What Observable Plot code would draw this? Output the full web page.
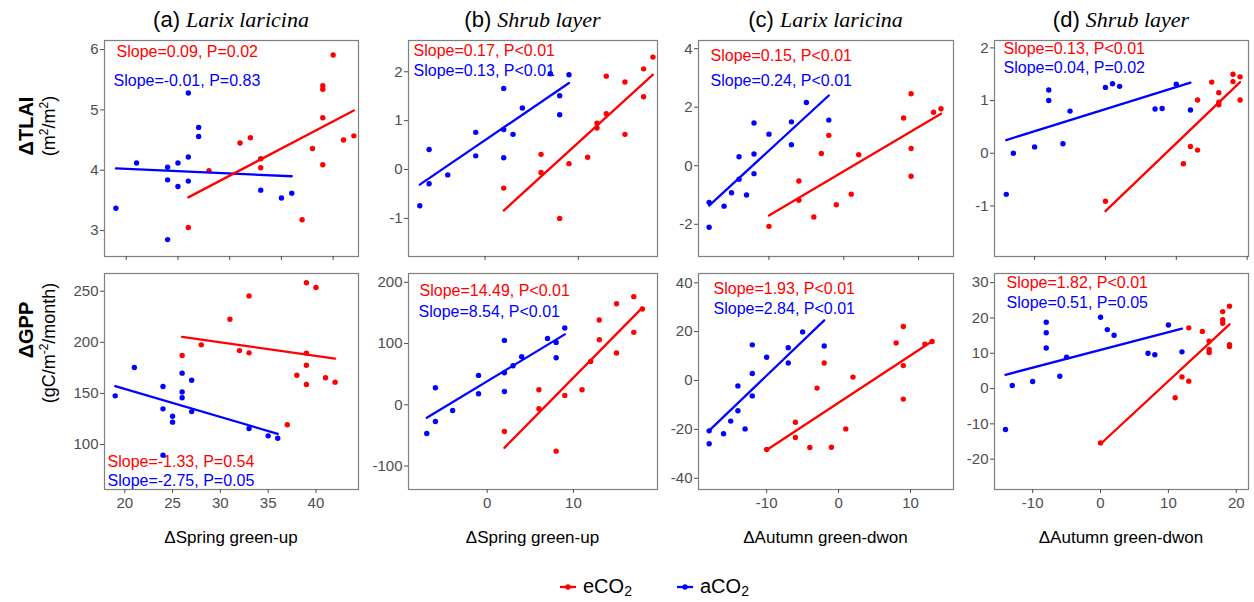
<!DOCTYPE html>
<html><head><meta charset="utf-8">
<script src="https://cdn.jsdelivr.net/npm/d3@7"></script>
<script src="https://cdn.jsdelivr.net/npm/@observablehq/plot@0.6"></script>
<style>
body{margin:0;background:#fff;}
#root{position:relative;width:1254px;height:602px;overflow:hidden;font-family:"Liberation Sans",Arial,sans-serif;}
.panel{position:absolute;}
#over{position:absolute;left:0;top:0;}
</style></head><body><div id="root"><svg id="over" width="1254" height="602"></svg></div>
<script>
// ---------- data ----------
const aTopBlue = [[19,3.37],[21,4.12],[24,4.05],[24,3.84],[24,2.85],[25,4.12],[25,3.73],[26,5.28],[26,4.22],[26,3.82],[27,4.71],[27,4.56],[33,3.67],[35,3.54],[36,3.62]];
const aTopRed = [[26,3.05],[28,3.99],[31,4.45],[32,4.54],[33,4.19],[33,4.04],[37,3.18],[38,4.36],[39,5.40],[39,5.34],[39,4.87],[39,4.09],[40,5.91],[41,4.50],[42,4.57]];
const aTopBlueFit = [[19,4.03],[36,3.90]];
const aTopRedFit = [[26,3.55],[42,4.99]];

const bTopBlue = [[-7,-0.74],[-6,-0.29],[-6,0.41],[-4,-0.11],[-1,0.28],[-1,0.76],[2,1.66],[2,0.82],[2,0.24],[3,0.72],[4,1.26],[7,1.96],[8,1.51],[8,1.12],[9,1.94]];
const bTopRed = [[2,-0.38],[6,0.31],[6,-0.06],[8,-1.0],[9,0.12],[11,0.25],[12,0.85],[12,0.95],[13,1.14],[13,1.91],[15,0.72],[15,1.79],[17,1.49],[17,2.06],[18,2.30]];
const bTopBlueFit = [[-7,-0.31],[9,1.77]];
const bTopRedFit = [[2,-0.84],[18,1.94]];

const cTopBlue = [[-18,-2.10],[-18,-1.25],[-16,-1.38],[-15,-0.92],[-14,-0.46],[-14,0.31],[-13,-1.0],[-12,1.46],[-12,0.40],[-12,-0.27],[-10,1.08],[-7,1.50],[-7,0.72],[-5,2.16],[-2,1.56]];
const cTopRed = [[-10,-2.07],[-6,-0.52],[-6,-1.18],[-4,-1.75],[-3,0.42],[-2,1.04],[-1,-1.33],[1,-0.97],[2,0.38],[8,1.63],[9,2.46],[9,0.59],[9,-0.36],[12,1.83],[13,1.95]];
const cTopBlueFit = [[-18,-1.36],[-2,2.40]];
const cTopRedFit = [[-10,-1.70],[13,1.78]];

const dTopBlue = [[-14,-0.78],[-13,0.0],[-10,0.12],[-8,1.20],[-8,1.0],[-6,0.18],[-5,0.80],[0,1.25],[1,1.32],[2,1.27],[7,0.84],[8,0.85],[10,1.31],[12,0.82]];
const dTopRed = [[0,-0.91],[11,-0.20],[12,0.13],[13,0.06],[13,1.01],[15,1.35],[16,1.15],[16,0.97],[16,0.92],[18,1.50],[18,1.36],[19,1.45],[19,1.01]];
const dTopBlueFit = [[-14,0.25],[12,1.34]];
const dTopRedFit = [[0,-1.10],[19,1.35]];

const aBotBlue = [[19,147.6],[21,175.3],[24,156.7],[24,134.9],[24,89.6],[25,127.7],[25,121.9],[26,169.8],[26,151.5],[26,145.7],[27,162.9],[27,132.2],[33,115.7],[35,108.5],[36,106.2]];
const aBotRed = [[26,187.1],[28,197.5],[31,222.6],[32,191.9],[33,245.4],[33,189.7],[37,119.3],[38,167.8],[39,258.2],[39,189.4],[39,177.6],[39,158.7],[40,253.6],[41,165.3],[42,161.0]];
const aBotBlueFit = [[19,157.1],[36,110.5]];
const aBotRedFit = [[26,205.3],[42,184.1]];

const bBotBlue = [[-7,-46.9],[-6,27.8],[-6,-27.2],[-4,-9.3],[-1,48.0],[-1,18.0],[2,105.2],[2,52.3],[2,21.8],[3,63.8],[4,78.5],[7,108.4],[8,101.9],[8,76.8],[9,125.3]];
const bBotRed = [[2,-43.6],[6,24.5],[6,-6.5],[8,-75.7],[9,15.3],[11,24.5],[12,70.8],[13,106.3],[13,138.4],[15,84.5],[15,165.1],[17,118.3],[17,176.6],[18,156.4]];
const bBotBlueFit = [[-7,-21.3],[9,115]];
const bBotRedFit = [[2,-70.3],[18,158.6]];

const cBotBlue = [[-18,-25.9],[-18,-20.6],[-16,-21.8],[-15,-16.6],[-14,-2.2],[-14,-12.4],[-13,-19.8],[-12,14.6],[-12,2.9],[-12,-6.3],[-10,9.5],[-7,13.4],[-7,7.2],[-5,19.9],[-2,14.1]];
const cBotRed = [[-10,-28.2],[-6,-17.1],[-6,-23.3],[-4,-27.4],[-3,-3.1],[-2,7.2],[-1,-27.3],[1,-19.8],[2,1.4],[8,15.4],[9,22.1],[9,6.1],[9,-7.6],[12,14.9],[13,16.0]];
const cBotBlueFit = [[-18,-20.5],[-2,24.6]];
const cBotRedFit = [[-10,-28.4],[13,16.1]];

const dBotBlue = [[-14,-11.6],[-13,0.85],[-10,2.0],[-8,18.8],[-8,15.8],[-8,11.5],[-6,3.5],[-5,8.9],[0,20.2],[1,16.7],[2,15.1],[7,10.0],[8,9.6],[10,18.0],[12,10.4]];
const dBotRed = [[0,-15.4],[11,-2.6],[12,3.3],[13,2.1],[13,17.2],[15,16.2],[16,13.4],[16,11.1],[16,10.2],[18,21.8],[18,19.5],[18,18.5],[19,23.3],[19,12.4],[19,11.9]];
const dBotBlueFit = [[-14,3.9],[12,17.0]];
const dBotRedFit = [[0,-15.7],[19,18.2]];

const xTicksA = [20,25,30,35,40];
const xTicksB = [0,10];
const xTicksC = [-10,0,10];
const xTicksD = [-10,0,10,20];
const yTicksATop = [3,4,5,6], yTicksBTop = [-1,0,1,2], yTicksCTop = [-2,0,2,4], yTicksDTop = [-1,0,1,2];
const yTicksABot = [100,150,200,250], yTicksBBot = [-100,0,100,200], yTicksCBot = [-40,-20,0,20,40], yTicksDBot = [-20,-10,0,10,20,30];

const titles = [["(a) ","Larix laricina"],["(b) ","Shrub layer"],["(c) ","Larix laricina"],["(d) ","Shrub layer"]];
const xTitles = ["ΔSpring green-up","ΔSpring green-up","ΔAutumn green-dwon","ΔAutumn green-dwon"];

// ---------- layout ----------
const RED = "#ff0000", BLUE = "#0000ff";
const cols = [[104,358],[408,657],[698,953],[994,1248]];
const rows = [[40,256],[273,489]];
const ML = 50, MR = 8, MT = 6, MB = 28;

const panels = [
  {c:0,r:0,xd:[17.9,42.45],yd:[2.57,6.15],xt:xTicksA,yt:yTicksATop,blue:aTopBlue,red:aTopRed,bf:aTopBlueFit,rf:aTopRedFit,rt:"Slope=0.09, P=0.02",bt:"Slope=-0.01, P=0.83",rp:[12,11],bp:[9,40]},
  {c:1,r:0,xd:[-8.21,18.49],yd:[-1.78,2.64],xt:xTicksB,yt:yTicksBTop,blue:bTopBlue,red:bTopRed,bf:bTopBlueFit,rf:bTopRedFit,rt:"Slope=0.17, P<0.01",bt:"Slope=0.13, P<0.01",rp:[5,10],bp:[5,30]},
  {c:2,r:0,xd:[-19.42,14.67],yd:[-3.10,4.28],xt:xTicksC,yt:yTicksCTop,blue:cTopBlue,red:cTopRed,bf:cTopBlueFit,rf:cTopRedFit,rt:"Slope=0.15, P<0.01",bt:"Slope=0.24, P<0.01",rp:[12,15],bp:[12,40]},
  {c:3,r:0,xd:[-15.66,20.19],yd:[-1.96,2.14],xt:xTicksD,yt:yTicksDTop,blue:dTopBlue,red:dTopRed,bf:dTopBlueFit,rf:dTopRedFit,rt:"Slope=0.13, P<0.01",bt:"Slope=0.04, P=0.02",rp:[9,8.5],bp:[9,27.5]},
  {c:0,r:1,xd:[17.88,44.45],yd:[56.0,267.3],xt:xTicksA,yt:yTicksABot,blue:aBotBlue,red:aBotRed,bf:aBotBlueFit,rf:aBotRedFit,rt:"Slope=-1.33, P=0.54",bt:"Slope=-2.75, P=0.05",rp:[3,188],bp:[3,207]},
  {c:1,r:1,xd:[-9.12,19.75],yd:[-138.3,214.4],xt:xTicksB,yt:yTicksBBot,blue:bBotBlue,red:bBotRed,bf:bBotBlueFit,rf:bBotRedFit,rt:"Slope=14.49, P<0.01",bt:"Slope=8.54, P<0.01",rp:[11,17],bp:[10,38]},
  {c:2,r:1,xd:[-19.48,15.98],yd:[-44.6,43.8],xt:xTicksC,yt:yTicksCBot,blue:cBotBlue,red:cBotRed,bf:cBotBlueFit,rf:cBotRedFit,rt:"Slope=1.93, P<0.01",bt:"Slope=2.84, P<0.01",rp:[15,15.5],bp:[15,35.5]},
  {c:3,r:1,xd:[-15.62,21.8],yd:[-28.6,32.6],xt:xTicksD,yt:yTicksDBot,blue:dBotBlue,red:dBotRed,bf:dBotBlueFit,rf:dBotRedFit,rt:"Slope=1.82, P<0.01",bt:"Slope=0.51, P=0.05",rp:[12,9.5],bp:[12,29]}
];

const root = document.getElementById("root");
const X = d => d[0], Y = d => d[1];
for (const p of panels) {
  const [l, rgt] = cols[p.c], [t, b] = rows[p.r];
  const w = rgt - l, h = b - t;
  const svg = Plot.plot({
    width: w + ML + MR, height: h + MT + MB,
    marginLeft: ML, marginRight: MR, marginTop: MT, marginBottom: MB,
    x: {domain: p.xd, label: null},
    y: {domain: p.yd, label: null},
    style: {fontFamily: "'Liberation Sans', Arial, sans-serif", fontSize: "15px", color: "#4d4d4d", background: "transparent", overflow: "visible"},
    marks: [
      Plot.frame({stroke: "#7f7f7f", strokeWidth: 1.2}),
      Plot.axisX({ticks: p.xt, tickSize: 4, tickPadding: 4, label: null, tickFormat: p.r === 1 ? d => String(d) : () => ""}),
      Plot.axisY({ticks: p.yt, tickSize: 4, tickPadding: 2, label: null, tickFormat: d => String(d)}),
      Plot.dot(p.blue, {x: X, y: Y, r: 2.7, fill: BLUE, stroke: null}),
      Plot.dot(p.red, {x: X, y: Y, r: 2.7, fill: RED, stroke: null}),
      Plot.line(p.bf, {x: X, y: Y, stroke: BLUE, strokeWidth: 2.3}),
      Plot.line(p.rf, {x: X, y: Y, stroke: RED, strokeWidth: 2.3}),
      Plot.text([p.rt], {text: d => d, frameAnchor: "top-left", textAnchor: "start", lineAnchor: "middle", dx: p.rp[0], dy: p.rp[1], fill: RED, fontSize: 16}),
      Plot.text([p.bt], {text: d => d, frameAnchor: "top-left", textAnchor: "start", lineAnchor: "middle", dx: p.bp[0], dy: p.bp[1], fill: BLUE, fontSize: 16})
    ]
  });
  svg.classList.add("panel");
  svg.style.left = (l - ML) + "px";
  svg.style.top = (t - MT) + "px";
  root.appendChild(svg);
}

// ---------- titles, axis titles, legend ----------
const over = d3.select("#over");
titles.forEach((tt, i) => {
  const cx = (cols[i][0] + cols[i][1]) / 2;
  const tx = over.append("text").attr("x", cx).attr("y", 27).attr("text-anchor", "middle").attr("font-size", 22).attr("fill", "#000");
  tx.append("tspan").attr("font-family", "'Liberation Sans', Arial, sans-serif").text(tt[0]);
  tx.append("tspan").attr("font-family", "'Liberation Serif', 'Times New Roman', serif").attr("font-style", "italic").text(tt[1]);
});
xTitles.forEach((tt, i) => {
  const cx = (cols[i][0] + cols[i][1]) / 2;
  over.append("text").attr("x", cx).attr("y", 543).attr("text-anchor", "middle").attr("font-size", 17)
    .attr("font-family", "'Liberation Sans', Arial, sans-serif").attr("fill", "#000").text(tt);
});
function yTitle(cy1, cy2, main, unitParts) {
  over.append("text").attr("transform", `translate(33,${cy1}) rotate(-90)`).attr("text-anchor", "middle")
    .attr("font-size", 20).attr("font-weight", "bold").attr("font-family", "'Liberation Sans', Arial, sans-serif").text(main);
  const u = over.append("text").attr("transform", `translate(55,${cy2}) rotate(-90)`).attr("text-anchor", "middle")
    .attr("font-size", 18).attr("font-family", "'Liberation Sans', Arial, sans-serif");
  for (const [s, sup] of unitParts) {
    const ts = u.append("tspan").text(s);
    if (sup) ts.attr("font-size", 12).attr("baseline-shift", "super");
  }
}
yTitle(126, 126, "ΔTLAI", [["(m",0],["2",1],["/m",0],["2",1],[")",0]]);
yTitle(330, 343, "ΔGPP", [["(gC/m",0],["-2",1],["/month)",0]]);

const legend = [["eCO", RED, 560], ["aCO", BLUE, 677]];
for (const [lab, col, x0] of legend) {
  over.append("line").attr("x1", x0).attr("x2", x0 + 16).attr("y1", 587).attr("y2", 587).attr("stroke", col).attr("stroke-width", 2.3);
  over.append("circle").attr("cx", x0 + 8).attr("cy", 587).attr("r", 2.7).attr("fill", col);
  const t = over.append("text").attr("x", x0 + 23).attr("y", 593).attr("font-size", 20).attr("font-family", "'Liberation Sans', Arial, sans-serif").attr("fill", "#000");
  t.append("tspan").text(lab);
  t.append("tspan").attr("font-size", 14).attr("dy", 3).text("2");
}
</script></body></html>
